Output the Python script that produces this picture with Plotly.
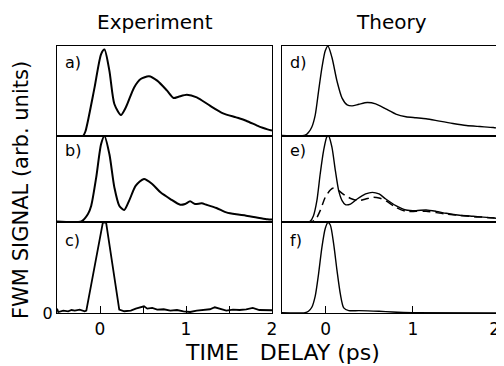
import plotly.graph_objects as go

# ---------------- data (time delay in ps, normalised signal) ----------------
t_a = [-0.52, -0.30, -0.198, -0.17, -0.14, -0.063, 0.013, 0.052, 0.109, 0.167, 0.243, 0.301,
       0.397, 0.473, 0.569, 0.665, 0.78, 0.856, 0.914, 1.01, 1.125, 1.278, 1.431, 1.584,
       1.70, 1.853, 1.948, 2.0]
s_a = [0.0, 0.0, 0.0, 0.05, 0.17, 0.54, 0.91, 0.96, 0.726, 0.356, 0.233, 0.319,
       0.54, 0.633, 0.663, 0.615, 0.504, 0.422, 0.437, 0.459, 0.43, 0.337, 0.252, 0.207,
       0.17, 0.104, 0.074, 0.06]

t_b = [-0.52, -0.216, -0.14, -0.102, -0.044, 0.013, 0.052, 0.109, 0.167, 0.224, 0.282,
       0.339, 0.416, 0.511, 0.607, 0.703, 0.818, 0.933, 0.99, 1.048, 1.105, 1.182, 1.239,
       1.354, 1.469, 1.584, 1.70, 1.853, 1.948, 2.0]
s_b = [0.008, 0.008, 0.093, 0.19, 0.519, 0.907, 1.0, 0.79, 0.403, 0.19, 0.14,
       0.248, 0.422, 0.5, 0.442, 0.345, 0.267, 0.2, 0.209, 0.24, 0.209, 0.217, 0.2,
       0.163, 0.112, 0.089, 0.074, 0.047, 0.031, 0.028]

t_c = [-0.5, -0.485, -0.427, -0.37, -0.331, -0.293, -0.236, -0.178, -0.159, 0.033, 0.071,
       0.224, 0.282, 0.358, 0.416, 0.473, 0.511, 0.55, 0.607, 0.665, 0.741, 0.818, 0.895,
       0.971, 1.048, 1.125, 1.201, 1.278, 1.335, 1.393, 1.469, 1.546, 1.623, 1.70, 1.776,
       1.853, 1.948, 2.0]
s_c = [0.048, 0.011, 0.026, 0.019, 0.033, 0.026, 0.037, 0.019, 0.026, 0.993, 0.993,
       0.037, 0.019, 0.026, 0.048, 0.063, 0.074, 0.048, 0.056, 0.037, 0.041, 0.026, 0.033,
       0.019, 0.011, 0.026, 0.033, 0.041, 0.063, 0.048, 0.026, 0.037, 0.033, 0.041, 0.056,
       0.033, 0.033, 0.03]

t_d = [-0.52, -0.235, -0.197, -0.158, -0.119, -0.081, -0.042, -0.004, 0.027, 0.073, 0.131,
       0.189, 0.247, 0.304, 0.382, 0.478, 0.574, 0.69, 0.805, 0.921, 1.037, 1.152, 1.306,
       1.46, 1.615, 1.769, 1.923, 2.0]
s_d = [0.008, 0.008, 0.038, 0.10, 0.233, 0.496, 0.76, 0.947, 1.0, 0.872, 0.609,
       0.421, 0.346, 0.335, 0.353, 0.372, 0.357, 0.301, 0.244, 0.214, 0.203, 0.192, 0.165,
       0.139, 0.117, 0.105, 0.094, 0.083]

t_e = [-0.52, -0.216, -0.177, -0.139, -0.10, -0.062, -0.023, 0.015, 0.035, 0.073, 0.112,
       0.15, 0.189, 0.227, 0.285, 0.362, 0.459, 0.536, 0.613, 0.69, 0.805, 0.921, 1.037,
       1.152, 1.268, 1.383, 1.537, 1.692, 1.846, 2.0]
s_e = [0.0, 0.0, 0.008, 0.074, 0.248, 0.558, 0.829, 0.992, 1.0, 0.868, 0.597,
       0.364, 0.248, 0.202, 0.209, 0.267, 0.326, 0.345, 0.326, 0.267, 0.19, 0.14, 0.132,
       0.14, 0.124, 0.101, 0.078, 0.066, 0.054, 0.039]

t_e2 = [-0.52, -0.177, -0.119, -0.062, -0.004, 0.054, 0.092, 0.15, 0.227, 0.304, 0.382,
        0.459, 0.536, 0.613, 0.69, 0.805, 0.921, 1.037, 1.152, 1.268, 1.383, 1.537, 1.692,
        1.846, 2.0]
s_e2 = [0.0, 0.0, 0.023, 0.132, 0.287, 0.372, 0.395, 0.364, 0.306, 0.267, 0.248,
        0.267, 0.287, 0.279, 0.248, 0.171, 0.124, 0.124, 0.124, 0.109, 0.093, 0.078, 0.062,
        0.054, 0.039]

t_f = [-0.52, -0.235, -0.197, -0.158, -0.119, -0.081, -0.042, -0.004, 0.027, 0.054, 0.092,
       0.131, 0.17, 0.208, 0.266, 0.382, 0.613, 0.767, 0.998, 2.0]
s_f = [0.004, 0.004, 0.019, 0.063, 0.186, 0.428, 0.725, 0.929, 0.993, 0.967, 0.762,
       0.465, 0.204, 0.056, 0.026, 0.026, 0.019, 0.011, 0.004, 0.0]

panel_labels = ["a)", "b)", "c)", "d)", "e)", "f)"]
x_ticks_left = [0, 0.5, 1, 1.5, 2]
x_ticktext_left = ["0", "", "1", "", "2"]
x_ticks_right = [0, 1, 2]
x_ticktext_right = ["0", "1", "2&nbsp;&nbsp;"]

# ---------------- layout geometry ----------------
# page body has an 8px margin, so the figure is drawn 8px in from the window edge
OFF = 8
W, H = 504 - OFF, 366 - OFF
def fx(X):
    return (X - OFF) / W
def fy(Y):
    return 1 - (Y - OFF) / H

xdom = [[fx(57), fx(272)], [fx(282), fx(500)]]
ydom = [[fy(136), fy(46)], [fy(222), fy(136)], [fy(313), fy(222)]]

FONT = "DejaVu Sans"
fig = go.Figure()

series = [
    (t_a, s_a, "spline"), (t_b, s_b, "spline"), (t_c, s_c, "linear"),
    (t_d, s_d, "spline"), (t_e, s_e, "spline"), (t_f, s_f, "spline"),
]
lw = [2.0, 2.0, 1.8, 1.4, 1.4, 1.4]
for i, (t, s, shape) in enumerate(series):
    n = i + 1
    xa = "x" if n == 1 else f"x{n}"
    ya = "y" if n == 1 else f"y{n}"
    fig.add_trace(go.Scatter(x=t, y=s, mode="lines", xaxis=xa, yaxis=ya,
                             line=dict(color="black", width=lw[i], shape=shape,
                                       smoothing=0.7),
                             showlegend=False, hoverinfo="skip"))
    if n == 5:
        fig.add_trace(go.Scatter(x=t_e2, y=s_e2, mode="lines", xaxis=xa, yaxis=ya,
                                 line=dict(color="black", width=1.5, dash="8px,5px",
                                           shape="spline", smoothing=0.7),
                                 showlegend=False, hoverinfo="skip"))

layout = dict(width=W, height=H, margin=dict(l=0, r=0, t=0, b=0, pad=0, autoexpand=False),
              paper_bgcolor="white", plot_bgcolor="white",
              font=dict(family=FONT, color="black"))

for i in range(6):
    n = i + 1
    col = 0 if i < 3 else 1
    row = i % 3
    xkey = "xaxis" if n == 1 else f"xaxis{n}"
    ykey = "yaxis" if n == 1 else f"yaxis{n}"
    bottom = row == 2
    xa = dict(domain=xdom[col], range=[-0.5, 2.0], showline=True, mirror=True,
              linecolor="black", linewidth=1.4, showgrid=False, zeroline=False,
              anchor="y" if n == 1 else f"y{n}", fixedrange=True, automargin=False,
              ticklabeloverflow="allow")
    if bottom:
        if col == 0:
            xa.update(tickvals=x_ticks_left, ticktext=x_ticktext_left)
        else:
            xa.update(tickvals=x_ticks_right, ticktext=x_ticktext_right)
        xa.update(ticks="inside", ticklen=7, tickwidth=1.3, tickcolor="black",
                  tickfont=dict(size=17, family=FONT))
    else:
        xa.update(showticklabels=False, ticks="")
    ya = dict(domain=ydom[row], range=[0, 1.0], showline=True, mirror=True,
              linecolor="black", linewidth=1.4, showgrid=False, zeroline=False,
              anchor="x" if n == 1 else f"x{n}", fixedrange=True, ticks="",
              automargin=False)
    if bottom and col == 0:
        ya.update(tickvals=[0], ticktext=["0"], tickfont=dict(size=16, family=FONT))
    else:
        ya.update(showticklabels=False)
    layout[xkey] = xa
    layout[ykey] = ya

fig.update_layout(**layout)

def note(text, X, Y, size, angle=0, xanchor="center"):
    fig.add_annotation(text=text, x=fx(X), y=fy(Y), xref="paper", yref="paper",
                       xanchor=xanchor, yanchor="middle", showarrow=False,
                       textangle=angle, font=dict(size=size, family=FONT))

label_pos = [(63, 62), (63, 150), (63, 240), (288, 62), (288, 150), (288, 240)]
for lab, (X, Y) in zip(panel_labels, label_pos):
    note(lab, X, Y, 16, xanchor="left")

note("Experiment", 155, 22, 20)
note("Theory", 391, 22, 20)
note("TIME&nbsp;&nbsp;&nbsp;DELAY (ps)", 282, 352, 22)
note("FWM SIGNAL (arb. units)", 21, 190, 21, angle=-90)

fig.write_html("out.html")
